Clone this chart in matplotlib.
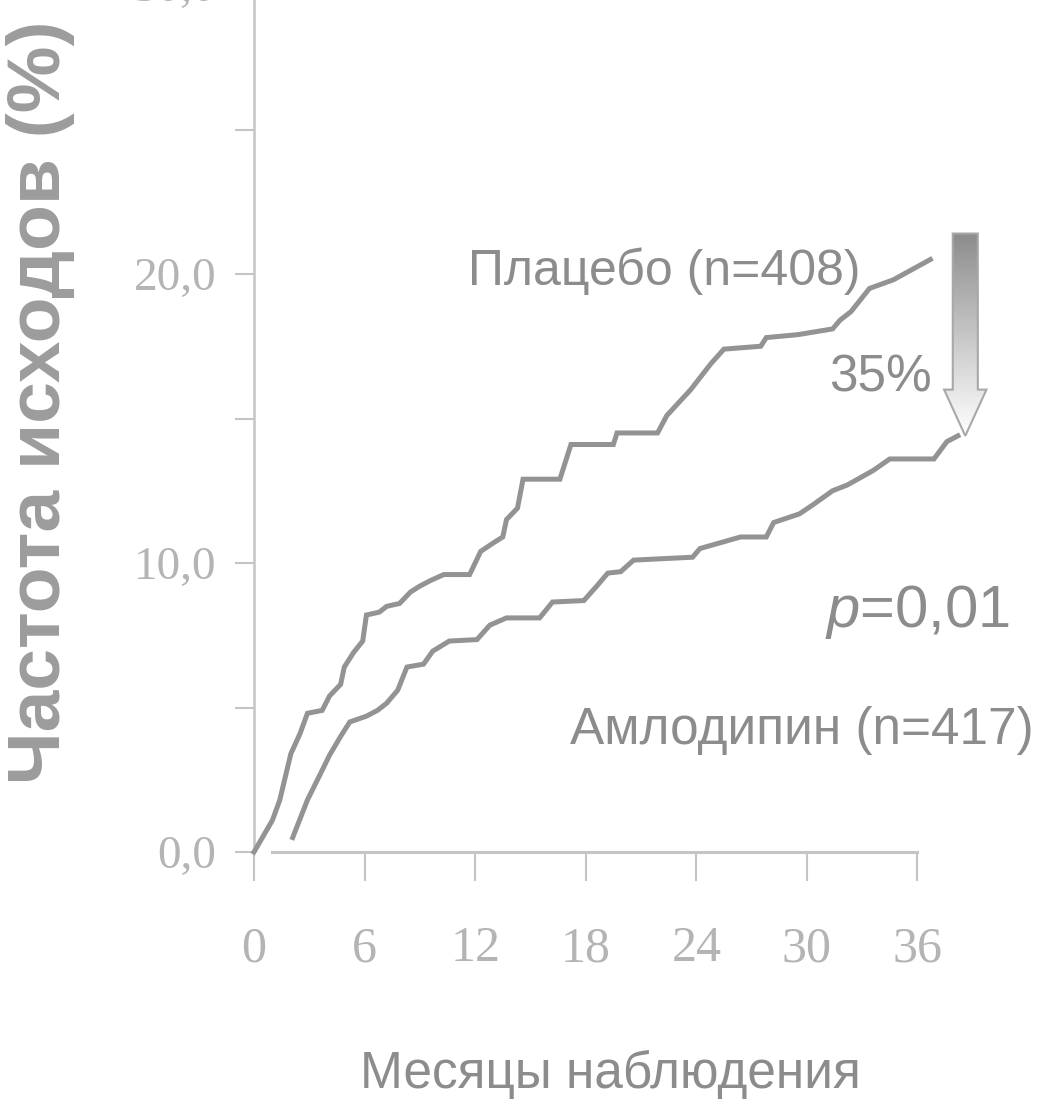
import matplotlib
matplotlib.use("Agg")
import matplotlib.pyplot as plt
import numpy as np
from matplotlib.patches import Polygon

plt.rcParams["mathtext.fontset"] = "custom"
plt.rcParams["mathtext.it"] = "Liberation Sans:italic"
plt.rcParams["mathtext.rm"] = "Liberation Sans"

# ---- data ----
placebo_months = [0, 1.0, 1.4, 2.0, 2.5, 2.9, 3.7, 4.1, 4.7, 4.9, 5.4, 5.9, 6.1, 6.8, 7.2,
                  7.9, 8.5, 9.0, 9.6, 10.3, 11.7, 12.3, 13.0, 13.5, 13.7, 14.3, 14.6, 16.6,
                  17.2, 19.5, 19.7, 21.9, 22.4, 23.7, 24.8, 25.5, 27.5, 27.8, 29.5, 31.4,
                  31.8, 32.4, 33.4, 34.7, 36.7]
placebo_pct = [0, 1.1, 1.8, 3.4, 4.1, 4.8, 4.9, 5.4, 5.8, 6.4, 6.9, 7.3, 8.2, 8.3, 8.5,
               8.6, 9.0, 9.2, 9.4, 9.6, 9.6, 10.4, 10.7, 10.9, 11.5, 11.9, 12.9, 12.9,
               14.1, 14.1, 14.5, 14.5, 15.1, 16.0, 16.9, 17.4, 17.5, 17.8, 17.9, 18.1,
               18.4, 18.7, 19.5, 19.8, 20.5]

amlo_months = [2.1, 2.9, 3.6, 4.1, 4.7, 5.2, 6.1, 6.7, 7.2, 7.8, 8.3, 9.2, 9.7, 10.6, 12.1,
               12.8, 13.7, 15.5, 16.2, 17.9, 18.6, 19.2, 19.9, 20.6, 23.8, 24.2, 26.4,
               27.8, 28.2, 29.6, 30.3, 31.4, 32.2, 33.6, 34.5, 36.9, 37.6, 38.2]
amlo_pct = [0.5, 1.8, 2.7, 3.35, 4.0, 4.5, 4.7, 4.9, 5.15, 5.6, 6.4, 6.5, 6.95, 7.3, 7.35,
            7.85, 8.1, 8.1, 8.65, 8.7, 9.2, 9.65, 9.7, 10.1, 10.2, 10.5, 10.9,
            10.9, 11.4, 11.7, 12.0, 12.5, 12.7, 13.2, 13.6, 13.6, 14.2, 14.4]

x_ticks = [0, 6, 12, 18, 24, 30, 36]
y_ticks = [0, 10, 20, 30]
y_tick_labels = ["0,0", "10,0", "20,0", "30,0"]
y_minor = [5, 15, 25]

placebo_label = "Плацебо (n=408)"
amlo_label = "Амлодипин (n=417)"
reduction_label = "35%"
p_label = "$\\mathit{p}$=0,01"
x_title = "Месяцы наблюдения"
y_title = "Частота исходов (%)"

# ---- styling ----
W, H = 1039, 1112
fig = plt.figure(figsize=(W / 100, H / 100), dpi=100)
fig.patch.set_facecolor("white")

sans = ["Liberation Sans", "DejaVu Sans"]
serif = ["Liberation Serif", "DejaVu Serif"]

curve_col = "#939393"
text_col = "#8c8c8c"
tick_col = "#b4b4b4"
axis_col = "#c4c4c4"

ax = fig.add_axes([254 / W, (H - 852) / H, (W - 254) / W, (852 + 15) / H])
ax.set_xlim(0, 42.6)
ax.set_ylim(0, 30)
ax.set_facecolor("none")

ax.plot(placebo_months, placebo_pct, color=curve_col, lw=3.6, solid_joinstyle="miter",
        clip_on=False, zorder=3)
ax.plot(amlo_months, amlo_pct, color=curve_col, lw=3.6, solid_joinstyle="miter",
        clip_on=False, zorder=3)

for s in ["top", "right"]:
    ax.spines[s].set_visible(False)
ax.spines["left"].set_color(axis_col)
ax.spines["left"].set_linewidth(1.8)
ax.spines["bottom"].set_color(axis_col)
ax.spines["bottom"].set_linewidth(2.2)
ax.spines["bottom"].set_bounds(1.0, 36)

ax.set_xticks(x_ticks)
ax.set_xticklabels([str(t) for t in x_ticks])
ax.set_yticks(y_ticks)
ax.set_yticklabels(y_tick_labels)
ax.set_yticks(y_minor, minor=True)

ax.tick_params(axis="x", direction="out", length=21, width=1.5, color=axis_col,
               pad=32, labelsize=36, labelcolor=tick_col)
ax.tick_params(axis="y", which="both", direction="out", length=14, width=1.5,
               color=axis_col, pad=13, labelsize=34, labelcolor=tick_col)
for lab in ax.get_xticklabels() + ax.get_yticklabels():
    lab.set_fontfamily(serif)

# ---- annotations ----
ax.text(32.9, 20.1, placebo_label, ha="right", va="center", fontsize=36,
        color=text_col, family=sans)
ax.text(36.8, 16.4, reduction_label, ha="right", va="center", fontsize=37,
        color=text_col, family=sans)
ax.text(41.0, 8.3, p_label, ha="right", va="center", fontsize=43,
        color=text_col, family=sans, clip_on=False)
ax.text(42.3, 4.2, amlo_label, ha="right", va="center", fontsize=37,
        color=text_col, family=sans, clip_on=False)

# ---- gradient block arrow from placebo end level to amlodipine end level ----
ax_x = 38.6
top = placebo_pct[-1] + 0.9
tip = amlo_pct[-1]
shaft_hw = 0.68
head_hw = 1.15
head_len = 1.6
verts = [(ax_x - shaft_hw, top), (ax_x + shaft_hw, top), (ax_x + shaft_hw, tip + head_len),
         (ax_x + head_hw, tip + head_len), (ax_x, tip), (ax_x - head_hw, tip + head_len),
         (ax_x - shaft_hw, tip + head_len)]
arrow = Polygon(verts, closed=True, facecolor="none", edgecolor="#a8a8a8", lw=1.5,
                zorder=5, clip_on=False)
ax.add_patch(arrow)
grad = np.linspace(0.55, 1.0, 256).reshape(-1, 1)
img = ax.imshow(grad, cmap="gray", vmin=0, vmax=1, aspect="auto",
                extent=[ax_x - head_hw, ax_x + head_hw, tip, top], origin="upper",
                zorder=4, interpolation="bilinear")
img.set_clip_path(arrow)
ax.set_xlim(0, 42.6)
ax.set_ylim(0, 30)

# ---- axis titles ----
fig.text(40 / W, 1 - 402 / H, y_title, rotation=90, ha="center", va="center",
         fontsize=54, fontweight="bold", color="#9c9c9c", family=sans)
fig.text(610 / W, 1 - 1074 / H, x_title, ha="center", va="center", fontsize=37,
         color=text_col, family=sans)

fig.savefig("out.png", dpi=100, facecolor="white")
